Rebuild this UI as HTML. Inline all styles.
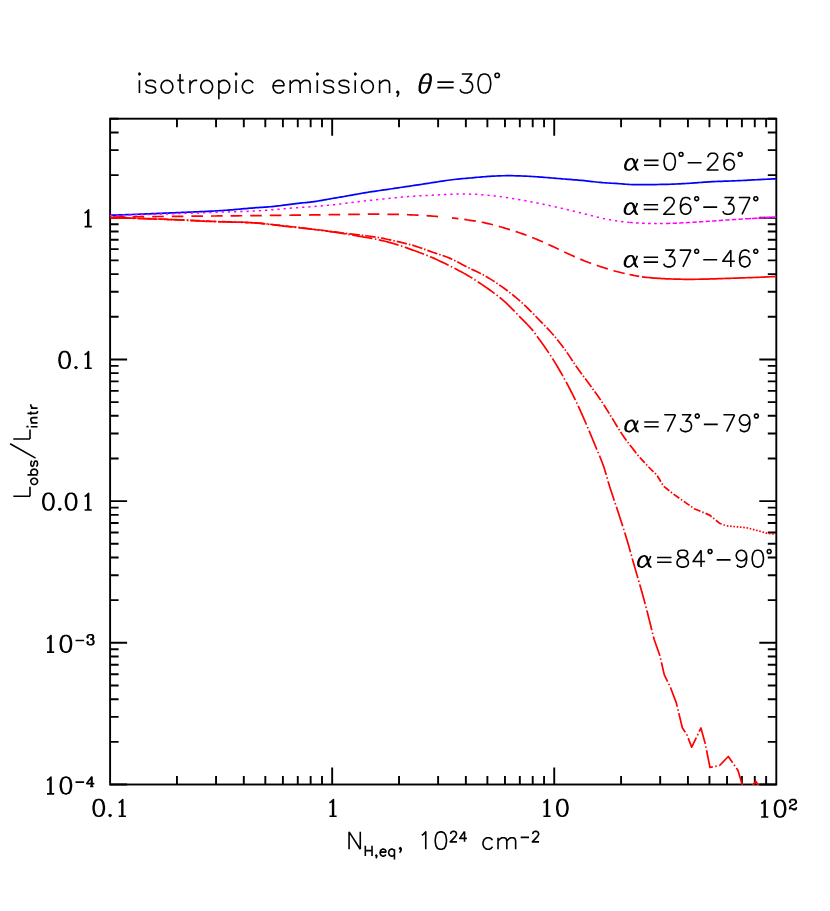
<!DOCTYPE html>
<html lang="en"><head><meta charset="utf-8"><title>isotropic emission, theta=30 deg</title>
<style>html,body{margin:0;padding:0;background:#fff}body{width:830px;height:911px;overflow:hidden;font-family:"Liberation Sans",sans-serif}svg{display:block}.t{fill:none;stroke:#000;stroke-linecap:butt;stroke-linejoin:round}.h{fill:#000;fill-opacity:0;stroke:none;font-family:"Liberation Sans",sans-serif}</style></head><body>
<svg width="830" height="911" viewBox="0 0 830 911">
<rect width="830" height="911" fill="#fff"/>
<defs><clipPath id="c"><rect x="110.1" y="118.7" width="666.2" height="666.4"/></clipPath></defs>
<path d="M176.95 784.5 v-8.5 M176.95 118.7 v8.5 M216.05 784.5 v-8.5 M216.05 118.7 v8.5 M243.8 784.5 v-8.5 M243.8 118.7 v8.5 M265.32 784.5 v-8.5 M265.32 118.7 v8.5 M282.9 784.5 v-8.5 M282.9 118.7 v8.5 M297.77 784.5 v-8.5 M297.77 118.7 v8.5 M310.65 784.5 v-8.5 M310.65 118.7 v8.5 M322.01 784.5 v-8.5 M322.01 118.7 v8.5 M332.17 784.5 v-17 M332.17 118.7 v17 M399.02 784.5 v-8.5 M399.02 118.7 v8.5 M438.12 784.5 v-8.5 M438.12 118.7 v8.5 M465.86 784.5 v-8.5 M465.86 118.7 v8.5 M487.38 784.5 v-8.5 M487.38 118.7 v8.5 M504.97 784.5 v-8.5 M504.97 118.7 v8.5 M519.83 784.5 v-8.5 M519.83 118.7 v8.5 M532.71 784.5 v-8.5 M532.71 118.7 v8.5 M544.07 784.5 v-8.5 M544.07 118.7 v8.5 M554.23 784.5 v-17 M554.23 118.7 v17 M621.08 784.5 v-8.5 M621.08 118.7 v8.5 M660.19 784.5 v-8.5 M660.19 118.7 v8.5 M687.93 784.5 v-8.5 M687.93 118.7 v8.5 M709.45 784.5 v-8.5 M709.45 118.7 v8.5 M727.03 784.5 v-8.5 M727.03 118.7 v8.5 M741.9 784.5 v-8.5 M741.9 118.7 v8.5 M754.78 784.5 v-8.5 M754.78 118.7 v8.5 M766.14 784.5 v-8.5 M766.14 118.7 v8.5 M110.1 784.5 h17 M776.3 784.5 h-17 M110.1 741.85 h8.5 M776.3 741.85 h-8.5 M110.1 716.9 h8.5 M776.3 716.9 h-8.5 M110.1 699.19 h8.5 M776.3 699.19 h-8.5 M110.1 685.46 h8.5 M776.3 685.46 h-8.5 M110.1 674.24 h8.5 M776.3 674.24 h-8.5 M110.1 664.76 h8.5 M776.3 664.76 h-8.5 M110.1 656.54 h8.5 M776.3 656.54 h-8.5 M110.1 649.29 h8.5 M776.3 649.29 h-8.5 M110.1 642.81 h17 M776.3 642.81 h-17 M110.1 600.16 h8.5 M776.3 600.16 h-8.5 M110.1 575.21 h8.5 M776.3 575.21 h-8.5 M110.1 557.5 h8.5 M776.3 557.5 h-8.5 M110.1 543.77 h8.5 M776.3 543.77 h-8.5 M110.1 532.55 h8.5 M776.3 532.55 h-8.5 M110.1 523.07 h8.5 M776.3 523.07 h-8.5 M110.1 514.85 h8.5 M776.3 514.85 h-8.5 M110.1 507.6 h8.5 M776.3 507.6 h-8.5 M110.1 501.12 h17 M776.3 501.12 h-17 M110.1 458.47 h8.5 M776.3 458.47 h-8.5 M110.1 433.52 h8.5 M776.3 433.52 h-8.5 M110.1 415.81 h8.5 M776.3 415.81 h-8.5 M110.1 402.08 h8.5 M776.3 402.08 h-8.5 M110.1 390.86 h8.5 M776.3 390.86 h-8.5 M110.1 381.38 h8.5 M776.3 381.38 h-8.5 M110.1 373.16 h8.5 M776.3 373.16 h-8.5 M110.1 365.91 h8.5 M776.3 365.91 h-8.5 M110.1 359.43 h17 M776.3 359.43 h-17 M110.1 316.77 h8.5 M776.3 316.77 h-8.5 M110.1 291.82 h8.5 M776.3 291.82 h-8.5 M110.1 274.12 h8.5 M776.3 274.12 h-8.5 M110.1 260.39 h8.5 M776.3 260.39 h-8.5 M110.1 249.17 h8.5 M776.3 249.17 h-8.5 M110.1 239.69 h8.5 M776.3 239.69 h-8.5 M110.1 231.47 h8.5 M776.3 231.47 h-8.5 M110.1 224.22 h8.5 M776.3 224.22 h-8.5 M110.1 217.74 h17 M776.3 217.74 h-17 M110.1 175.08 h8.5 M776.3 175.08 h-8.5 M110.1 150.13 h8.5 M776.3 150.13 h-8.5 M110.1 132.43 h8.5 M776.3 132.43 h-8.5 M110.1 118.7 h8.5 M776.3 118.7 h-8.5" fill="none" stroke="#000" stroke-width="1.9"/>
<rect x="110.1" y="118.7" width="666.2" height="665.8" fill="none" stroke="#000" stroke-width="1.9"/>
<g clip-path="url(#c)" fill="none" stroke-width="1.7" stroke-linejoin="round">
<path d="M110.1 215.2 L112.1 215.14 L114.1 215.09 L116.1 215.03 L118.1 214.97 L120.1 214.9 L122.1 214.84 L124.1 214.77 L126.1 214.7 L128.1 214.63 L130.1 214.56 L132.1 214.49 L134.1 214.42 L136.1 214.34 L138.1 214.27 L140.1 214.19 L142.1 214.12 L144.1 214.04 L146.1 213.96 L148.1 213.88 L150.1 213.8 L152.1 213.71 L154.1 213.63 L156.1 213.55 L158.1 213.46 L160.1 213.38 L162.1 213.3 L164.1 213.21 L166.1 213.13 L168.1 213.04 L170.1 212.95 L172.1 212.87 L174.1 212.78 L176.1 212.7 L178.1 212.61 L180.1 212.52 L182.1 212.44 L184.1 212.35 L186.1 212.27 L188.1 212.18 L190.1 212.1 L192.1 212.01 L194.1 211.93 L196.1 211.84 L198.1 211.76 L200.1 211.67 L202.1 211.58 L204.1 211.49 L206.1 211.4 L208.1 211.3 L210.1 211.2 L212.1 211.1 L214.1 210.99 L216.1 210.88 L218.1 210.77 L220.1 210.65 L222.1 210.52 L224.1 210.39 L226.1 210.25 L228.1 210.1 L230.1 209.95 L232.1 209.79 L234.1 209.62 L236.1 209.45 L238.1 209.27 L240.1 209.09 L242.1 208.91 L244.1 208.72 L246.1 208.54 L248.1 208.37 L250.1 208.19 L252.1 208.03 L254.1 207.87 L256.1 207.72 L258.1 207.58 L260.1 207.45 L262.1 207.31 L264.1 207.18 L266.1 207.04 L268.1 206.9 L270.1 206.74 L272.1 206.58 L274.1 206.39 L276.1 206.18 L278.1 205.96 L280.1 205.72 L282.1 205.46 L284.1 205.2 L286.1 204.93 L288.1 204.66 L290.1 204.39 L292.1 204.13 L294.1 203.87 L296.1 203.63 L298.1 203.4 L300.1 203.18 L302.1 202.96 L304.1 202.74 L306.1 202.53 L308.1 202.31 L310.1 202.08 L312.1 201.83 L314.1 201.57 L316.1 201.29 L318.1 200.98 L320.1 200.65 L322.1 200.31 L324.1 199.96 L326.1 199.6 L328.1 199.24 L330.1 198.88 L332.1 198.53 L334.1 198.18 L336.1 197.84 L338.1 197.5 L340.1 197.16 L342.1 196.82 L344.1 196.48 L346.1 196.13 L348.1 195.78 L350.1 195.42 L352.1 195.06 L354.1 194.7 L356.1 194.33 L358.1 193.97 L360.1 193.61 L362.1 193.26 L364.1 192.92 L366.1 192.58 L368.1 192.26 L370.1 191.95 L372.1 191.65 L374.1 191.35 L376.1 191.06 L378.1 190.77 L380.1 190.49 L382.1 190.2 L384.1 189.91 L386.1 189.62 L388.1 189.33 L390.1 189.03 L392.1 188.73 L394.1 188.43 L396.1 188.13 L398.1 187.83 L400.1 187.53 L402.1 187.23 L404.1 186.93 L406.1 186.63 L408.1 186.34 L410.1 186.04 L412.1 185.75 L414.1 185.45 L416.1 185.15 L418.1 184.85 L420.1 184.55 L422.1 184.24 L424.1 183.93 L426.1 183.62 L428.1 183.31 L430.1 183 L432.1 182.68 L434.1 182.37 L436.1 182.06 L438.1 181.75 L440.1 181.44 L442.1 181.13 L444.1 180.83 L446.1 180.53 L448.1 180.25 L450.1 179.98 L452.1 179.72 L454.1 179.47 L456.1 179.24 L458.1 179.03 L460.1 178.84 L462.1 178.66 L464.1 178.49 L466.1 178.33 L468.1 178.16 L470.1 177.99 L472.1 177.82 L474.1 177.64 L476.1 177.45 L478.1 177.27 L480.1 177.09 L482.1 176.92 L484.1 176.75 L486.1 176.59 L488.1 176.45 L490.1 176.31 L492.1 176.19 L494.1 176.08 L496.1 175.98 L498.1 175.9 L500.1 175.83 L502.1 175.77 L504.1 175.73 L506.1 175.7 L508.1 175.69 L510.1 175.69 L512.1 175.71 L514.1 175.74 L516.1 175.78 L518.1 175.84 L520.1 175.9 L522.1 175.98 L524.1 176.06 L526.1 176.16 L528.1 176.26 L530.1 176.38 L532.1 176.49 L534.1 176.62 L536.1 176.75 L538.1 176.89 L540.1 177.04 L542.1 177.19 L544.1 177.34 L546.1 177.5 L548.1 177.66 L550.1 177.82 L552.1 177.99 L554.1 178.15 L556.1 178.32 L558.1 178.49 L560.1 178.66 L562.1 178.83 L564.1 178.99 L566.1 179.16 L568.1 179.32 L570.1 179.47 L572.1 179.63 L574.1 179.79 L576.1 179.95 L578.1 180.11 L580.1 180.28 L582.1 180.46 L584.1 180.65 L586.1 180.85 L588.1 181.07 L590.1 181.3 L592.1 181.54 L594.1 181.78 L596.1 182.02 L598.1 182.24 L600.1 182.44 L602.1 182.62 L604.1 182.77 L606.1 182.89 L608.1 183.01 L610.1 183.12 L612.1 183.23 L614.1 183.34 L616.1 183.47 L618.1 183.62 L620.1 183.77 L622.1 183.93 L624.1 184.09 L626.1 184.23 L628.1 184.37 L630.1 184.48 L632.1 184.57 L634.1 184.63 L636.1 184.68 L638.1 184.7 L640.1 184.71 L642.1 184.71 L644.1 184.69 L646.1 184.67 L648.1 184.64 L650.1 184.61 L652.1 184.58 L654.1 184.56 L656.1 184.53 L658.1 184.5 L660.1 184.47 L662.1 184.43 L664.1 184.39 L666.1 184.35 L668.1 184.3 L670.1 184.24 L672.1 184.18 L674.1 184.1 L676.1 184.02 L678.1 183.93 L680.1 183.83 L682.1 183.72 L684.1 183.61 L686.1 183.49 L688.1 183.36 L690.1 183.23 L692.1 183.09 L694.1 182.95 L696.1 182.81 L698.1 182.66 L700.1 182.51 L702.1 182.37 L704.1 182.22 L706.1 182.09 L708.1 181.95 L710.1 181.83 L712.1 181.72 L714.1 181.61 L716.1 181.52 L718.1 181.43 L720.1 181.36 L722.1 181.28 L724.1 181.21 L726.1 181.14 L728.1 181.07 L730.1 181 L732.1 180.93 L734.1 180.85 L736.1 180.77 L738.1 180.68 L740.1 180.59 L742.1 180.49 L744.1 180.39 L746.1 180.29 L748.1 180.18 L750.1 180.08 L752.1 179.97 L754.1 179.86 L756.1 179.75 L758.1 179.65 L760.1 179.54 L762.1 179.44 L764.1 179.34 L766.1 179.24 L768.1 179.14 L770.1 179.05 L772.1 178.97 L774.1 178.88 L776.1 178.81 L776.3 178.8" stroke="#0000ff"/>
<path d="M110.1 215.5 L112.1 215.44 L114.1 215.39 L116.1 215.33 L118.1 215.27 L120.1 215.22 L122.1 215.16 L124.1 215.11 L126.1 215.05 L128.1 215 L130.1 214.94 L132.1 214.89 L134.1 214.83 L136.1 214.78 L138.1 214.73 L140.1 214.67 L142.1 214.62 L144.1 214.56 L146.1 214.51 L148.1 214.45 L150.1 214.4 L152.1 214.34 L154.1 214.29 L156.1 214.23 L158.1 214.17 L160.1 214.12 L162.1 214.06 L164.1 214 L166.1 213.94 L168.1 213.89 L170.1 213.83 L172.1 213.77 L174.1 213.71 L176.1 213.65 L178.1 213.58 L180.1 213.52 L182.1 213.46 L184.1 213.39 L186.1 213.33 L188.1 213.26 L190.1 213.2 L192.1 213.13 L194.1 213.06 L196.1 212.99 L198.1 212.92 L200.1 212.85 L202.1 212.78 L204.1 212.71 L206.1 212.64 L208.1 212.57 L210.1 212.5 L212.1 212.43 L214.1 212.37 L216.1 212.3 L218.1 212.23 L220.1 212.16 L222.1 212.1 L224.1 212.04 L226.1 211.97 L228.1 211.91 L230.1 211.85 L232.1 211.8 L234.1 211.74 L236.1 211.69 L238.1 211.63 L240.1 211.58 L242.1 211.52 L244.1 211.45 L246.1 211.39 L248.1 211.31 L250.1 211.23 L252.1 211.14 L254.1 211.05 L256.1 210.94 L258.1 210.82 L260.1 210.69 L262.1 210.56 L264.1 210.41 L266.1 210.26 L268.1 210.11 L270.1 209.95 L272.1 209.78 L274.1 209.61 L276.1 209.44 L278.1 209.27 L280.1 209.1 L282.1 208.93 L284.1 208.76 L286.1 208.59 L288.1 208.43 L290.1 208.27 L292.1 208.11 L294.1 207.95 L296.1 207.8 L298.1 207.64 L300.1 207.49 L302.1 207.34 L304.1 207.19 L306.1 207.04 L308.1 206.89 L310.1 206.74 L312.1 206.58 L314.1 206.43 L316.1 206.27 L318.1 206.12 L320.1 205.96 L322.1 205.79 L324.1 205.63 L326.1 205.45 L328.1 205.28 L330.1 205.09 L332.1 204.9 L334.1 204.7 L336.1 204.48 L338.1 204.26 L340.1 204.02 L342.1 203.77 L344.1 203.51 L346.1 203.25 L348.1 202.99 L350.1 202.73 L352.1 202.47 L354.1 202.22 L356.1 201.97 L358.1 201.72 L360.1 201.48 L362.1 201.25 L364.1 201.01 L366.1 200.79 L368.1 200.57 L370.1 200.35 L372.1 200.14 L374.1 199.93 L376.1 199.73 L378.1 199.52 L380.1 199.32 L382.1 199.12 L384.1 198.91 L386.1 198.7 L388.1 198.5 L390.1 198.29 L392.1 198.08 L394.1 197.88 L396.1 197.68 L398.1 197.49 L400.1 197.3 L402.1 197.12 L404.1 196.94 L406.1 196.78 L408.1 196.62 L410.1 196.47 L412.1 196.32 L414.1 196.19 L416.1 196.06 L418.1 195.93 L420.1 195.82 L422.1 195.71 L424.1 195.6 L426.1 195.5 L428.1 195.4 L430.1 195.3 L432.1 195.21 L434.1 195.11 L436.1 195.01 L438.1 194.92 L440.1 194.81 L442.1 194.71 L444.1 194.61 L446.1 194.5 L448.1 194.41 L450.1 194.32 L452.1 194.24 L454.1 194.17 L456.1 194.11 L458.1 194.07 L460.1 194.04 L462.1 194.03 L464.1 194.03 L466.1 194.05 L468.1 194.09 L470.1 194.13 L472.1 194.2 L474.1 194.28 L476.1 194.37 L478.1 194.48 L480.1 194.61 L482.1 194.75 L484.1 194.9 L486.1 195.07 L488.1 195.25 L490.1 195.45 L492.1 195.65 L494.1 195.88 L496.1 196.11 L498.1 196.36 L500.1 196.61 L502.1 196.88 L504.1 197.16 L506.1 197.46 L508.1 197.76 L510.1 198.07 L512.1 198.39 L514.1 198.72 L516.1 199.06 L518.1 199.4 L520.1 199.76 L522.1 200.12 L524.1 200.48 L526.1 200.85 L528.1 201.23 L530.1 201.6 L532.1 201.99 L534.1 202.38 L536.1 202.77 L538.1 203.17 L540.1 203.57 L542.1 203.98 L544.1 204.4 L546.1 204.82 L548.1 205.25 L550.1 205.69 L552.1 206.13 L554.1 206.57 L556.1 207.03 L558.1 207.48 L560.1 207.95 L562.1 208.41 L564.1 208.89 L566.1 209.37 L568.1 209.85 L570.1 210.34 L572.1 210.83 L574.1 211.32 L576.1 211.82 L578.1 212.31 L580.1 212.82 L582.1 213.32 L584.1 213.82 L586.1 214.32 L588.1 214.82 L590.1 215.33 L592.1 215.83 L594.1 216.32 L596.1 216.81 L598.1 217.29 L600.1 217.75 L602.1 218.21 L604.1 218.65 L606.1 219.07 L608.1 219.48 L610.1 219.86 L612.1 220.22 L614.1 220.55 L616.1 220.86 L618.1 221.15 L620.1 221.42 L622.1 221.66 L624.1 221.89 L626.1 222.1 L628.1 222.29 L630 222.46" stroke="#ff00ff" stroke-width="1.5" stroke-dasharray="2.3 3.9"/>
<path d="M630 222.46 L632 222.62 L634 222.77 L636 222.9 L638 223.02 L640 223.13 L642 223.23 L644 223.31 L646 223.38 L648 223.44 L650 223.48 L652 223.52 L654 223.54 L656 223.55 L658 223.55 L660 223.54 L662 223.52 L664 223.49 L666 223.45" stroke="#ff00ff" stroke-width="1.5" stroke-dasharray="2.8 3.2"/>
<path d="M666 223.45 L668 223.4 L670 223.34 L672 223.28 L674 223.21 L676 223.13 L678 223.04 L680 222.95 L682 222.85 L684 222.75 L686 222.64 L688 222.53 L690 222.42 L692 222.3 L694 222.18 L696 222.06 L698 221.94 L700 221.81 L702 221.69 L704 221.56 L706 221.43 L708 221.3 L710 221.16 L712 221.03 L714 220.89 L716 220.75 L718 220.61 L720 220.47 L722 220.34 L724 220.2 L726 220.06 L728 219.92 L730 219.79 L732 219.66 L734 219.53 L736 219.4 L738 219.28 L740 219.16 L742 219.04 L744 218.93 L745 218.87" stroke="#ff00ff" stroke-width="1.5" stroke-dasharray="4.4 2.2"/>
<path d="M745 218.87 L747 218.76 L749 218.64 L751 218.53 L753 218.42 L755 218.31 L757 218.2 L759 218.09 L761 217.98 L763 217.87 L765 217.76 L767 217.65 L769 217.53 L771 217.42 L773 217.3 L775 217.18 L776.3 217.1" stroke="#ff00ff" stroke-width="1.5" stroke-dasharray="6 0.6"/>
<path d="M110.1 217.1 L112.1 217.07 L114.1 217.04 L116.1 217.02 L118.1 216.99 L120.1 216.96 L122.1 216.93 L124.1 216.91 L126.1 216.88 L128.1 216.86 L130.1 216.83 L132.1 216.81 L134.1 216.78 L136.1 216.76 L138.1 216.74 L140.1 216.71 L142.1 216.69 L144.1 216.67 L146.1 216.65 L148.1 216.62 L150.1 216.6 L152.1 216.58 L154.1 216.56 L156.1 216.54 L158.1 216.52 L160.1 216.5 L162.1 216.48 L164.1 216.46 L166.1 216.44 L168.1 216.42 L170.1 216.4 L172.1 216.38 L174.1 216.36 L176.1 216.34 L178.1 216.32 L180.1 216.3 L182.1 216.29 L184.1 216.27 L186.1 216.25 L188.1 216.23 L190.1 216.21 L192.1 216.19 L194.1 216.18 L196.1 216.16 L198.1 216.14 L200.1 216.12 L202.1 216.11 L204.1 216.09 L206.1 216.07 L208.1 216.05 L210.1 216.03 L212.1 216.02 L214.1 216 L216.1 215.98 L218.1 215.96 L220.1 215.94 L222.1 215.93 L224.1 215.91 L226.1 215.89 L228.1 215.87 L230.1 215.85 L232.1 215.83 L234.1 215.82 L236.1 215.8 L238.1 215.78 L240.1 215.76 L242.1 215.74 L244.1 215.72 L246.1 215.7 L248.1 215.68 L250.1 215.66 L252.1 215.64 L254.1 215.62 L256.1 215.6 L258.1 215.58 L260.1 215.56 L262.1 215.54 L264.1 215.52 L266.1 215.5 L268.1 215.48 L270.1 215.45 L272.1 215.43 L274.1 215.41 L276.1 215.39 L278.1 215.37 L280.1 215.34 L282.1 215.32 L284.1 215.3 L286.1 215.27 L288.1 215.25 L290.1 215.23 L292.1 215.2 L294.1 215.18 L296.1 215.15 L298.1 215.13 L300.1 215.1 L302.1 215.08 L304.1 215.05 L306.1 215.02 L308.1 215 L310.1 214.97 L312.1 214.95 L314.1 214.92 L316.1 214.89 L318.1 214.86 L320.1 214.84 L322.1 214.81 L324.1 214.78 L326.1 214.75 L328.1 214.72 L330.1 214.69 L332.1 214.66 L334.1 214.63 L336.1 214.6 L338.1 214.57 L340.1 214.54 L342.1 214.51 L344.1 214.48 L346.1 214.45 L348.1 214.43 L350.1 214.4 L352.1 214.37 L354.1 214.34 L356.1 214.32 L358.1 214.3 L360.1 214.28 L362.1 214.26 L364.1 214.24 L366.1 214.23 L368.1 214.22 L370.1 214.21 L372.1 214.2 L374.1 214.2 L376.1 214.2 L378.1 214.2 L380.1 214.21 L382.1 214.22 L384.1 214.24 L386.1 214.26 L388.1 214.28 L390.1 214.31 L392.1 214.34 L394.1 214.37 L396.1 214.41 L398.1 214.45 L400.1 214.5 L402.1 214.55 L404.1 214.61 L406.1 214.67 L408.1 214.74 L410.1 214.82 L412.1 214.9 L414.1 214.99 L416.1 215.08 L418.1 215.18 L420.1 215.29 L422.1 215.41 L424.1 215.54 L426.1 215.67 L428.1 215.81 L430.1 215.95 L432.1 216.1 L434.1 216.25 L436.1 216.41 L438.1 216.57 L440.1 216.73 L442.1 216.9 L444.1 217.07 L446 217.24" stroke="#ff0000" stroke-dasharray="11.6 8" stroke-dashoffset="16.7"/>
<path d="M607.8 268.92 L606 268.37 L604 267.74 L602 267.11 L600 266.47 L598 265.81 L596 265.13 L594 264.44 L592 263.73 L590 263 L588 262.25 L586 261.47 L584 260.67 L582 259.85 L580 259.01 L578 258.15 L576 257.27 L574 256.38 L572 255.48 L570 254.57 L568 253.65 L566 252.72 L564 251.78 L562 250.84 L560 249.89 L558 248.95 L556 248 L554 247.06 L552 246.13 L550 245.2 L548 244.27 L546 243.36 L544 242.46 L542 241.58 L540 240.7 L538 239.85 L536 239 L534 238.18 L532 237.37 L530 236.58 L528 235.81 L526 235.07 L524 234.34 L522 233.63 L520 232.94 L518 232.27 L516 231.61 L514 230.96 L512 230.33 L510 229.7 L508 229.09 L506 228.48 L504 227.88 L502 227.28 L500 226.7 L498 226.13 L496 225.57 L494 225.03 L492 224.51 L490 224.02 L488 223.55 L486 223.1 L484 222.68 L482 222.29 L480 221.92 L478 221.57 L476 221.24 L474 220.92 L472 220.61 L470 220.3 L468 220 L466 219.7 L464 219.4 L462 219.12 L460 218.84 L458 218.57 L456 218.32 L454 218.08 L452 217.85" stroke="#ff0000" stroke-dasharray="11.6 6"/>
<path d="M613.6 270.68 L615.6 271.26 L617.6 271.79 L619.6 272.3 L621.6 272.77 L623.6 273.23 L624.7 273.47 M629.5 274.49 L631.5 274.91 L633.5 275.32 L635.5 275.72 L637.5 276.09 L639.2 276.38 M642 276.81 L644 277.07 L646 277.31 L648 277.52 L650 277.71 L652 277.89 L654 278.05 L656 278.2 L658 278.34 L660 278.47 L662 278.58 L664 278.69 L666 278.79 L668 278.87 L670 278.95 L672 279.02 L674 279.08 L676 279.14 L678 279.18 L680 279.22 L682 279.25 L684 279.28 L686 279.3 L688 279.3 L690 279.31 L692 279.3 L694 279.29 L696 279.27 L698 279.24 L700 279.21 L702 279.17 L704 279.13 L706 279.08 L708 279.03 L710 278.97 L712 278.91 L714 278.85 L716 278.79 L718 278.72 L720 278.65 L722 278.58 L724 278.51 L726 278.44 L728 278.37 L730 278.3 L732 278.23 L734 278.16 L736 278.1 L738 278.03 L740 277.96 L742 277.9 L744 277.83 L746 277.76 L748 277.69 L750 277.62 L752 277.55 L754 277.48 L756 277.4 L758 277.32 L760 277.24 L762 277.15 L764 277.06 L766 276.97 L768 276.87 L770 276.77 L772 276.66 L774 276.54 L776 276.42 L776.3 276.4" stroke="#ff0000"/>
<path d="M110.1 217.5 L112.1 217.55 L114.1 217.6 L116.1 217.65 L118.1 217.7 L120.1 217.75 L122.1 217.81 L124.1 217.86 L126.1 217.92 L128.1 217.98 L130.1 218.04 L132.1 218.1 L134.1 218.16 L136.1 218.22 L138.1 218.28 L140.1 218.35 L142.1 218.41 L144.1 218.48 L146.1 218.55 L148.1 218.62 L150.1 218.68 L152.1 218.75 L154.1 218.83 L156.1 218.9 L158.1 218.97 L160.1 219.04 L162.1 219.12 L164.1 219.19 L166.1 219.27 L168.1 219.34 L170.1 219.42 L172.1 219.5 L174.1 219.57 L176.1 219.65 L178.1 219.73 L180.1 219.82 L182.1 219.9 L184.1 220 L186.1 220.09 L188.1 220.19 L190.1 220.29 L192.1 220.39 L194.1 220.5 L196.1 220.6 L198.1 220.7 L200.1 220.8 L202.1 220.9 L204.1 221 L206.1 221.1 L208.1 221.19 L210.1 221.27 L212.1 221.35 L214.1 221.43 L216.1 221.49 L218.1 221.56 L220.1 221.61 L222.1 221.67 L224.1 221.72 L226.1 221.77 L228.1 221.82 L230.1 221.87 L232.1 221.92 L234.1 221.97 L236.1 222.02 L238.1 222.07 L240.1 222.13 L242.1 222.19 L244.1 222.26 L246.1 222.33 L248.1 222.42 L250.1 222.5 L252.1 222.61 L254.1 222.73 L256.1 222.88 L258.1 223.04 L260.1 223.21 L262.1 223.4 L264.1 223.61 L266.1 223.82 L268.1 224.04 L270.1 224.26 L272.1 224.49 L274.1 224.73 L276.1 224.97 L278.1 225.2 L280.1 225.44 L282.1 225.67 L284.1 225.89 L286.1 226.11 L288.1 226.33 L290.1 226.54 L292.1 226.76 L294.1 226.98 L296.1 227.21 L298.1 227.43 L300.1 227.66 L302.1 227.88 L304.1 228.11 L306.1 228.35 L308.1 228.58 L310.1 228.82 L312.1 229.05 L314.1 229.29 L316.1 229.54 L318.1 229.78 L320.1 230.03 L322.1 230.28 L324.1 230.53 L326.1 230.79 L328.1 231.06 L330.1 231.34 L332.1 231.62 L334.1 231.89 L336.1 232.17 L338.1 232.44 L340.1 232.71 L342.1 232.97 L344.1 233.21 L346.1 233.45 L348.1 233.67 L350.1 233.88 L352.1 234.1 L354.1 234.31 L356.1 234.53 L358.1 234.76 L360.1 235 L362.1 235.25 L364.1 235.49 L366.1 235.74 L368.1 235.99 L370.1 236.26 L372.1 236.54 L374.1 236.83 L376.1 237.14 L378.1 237.47 L380.1 237.83 L382.1 238.21 L384.1 238.61 L386.1 239.03 L388.1 239.46 L390.1 239.91 L392.1 240.35 L394.1 240.8 L396.1 241.24 L398.1 241.69 L400.1 242.14 L402.1 242.6 L404.1 243.07 L406.1 243.55 L408.1 244.05 L410.1 244.57 L412.1 245.12 L414.1 245.69 L416.1 246.32 L418.1 246.99 L420.1 247.69 L422.1 248.41 L424.1 249.15 L426.1 249.89 L428.1 250.63 L430.1 251.35 L432.1 252.05 L434.1 252.72 L436.1 253.38 L438.1 254.03 L440.1 254.69 L442.1 255.36 L444.1 256.06 L446.1 256.79 L448.1 257.56 L450.1 258.38 L452.1 259.27 L454.1 260.23 L456.1 261.23 L458.1 262.27 L460.1 263.33 L462.1 264.4 L464.1 265.45 L466.1 266.49 L468.1 267.5 L470.1 268.47 L472.1 269.43 L474.1 270.38 L476.1 271.34 L478.1 272.3 L480.1 273.29 L482.1 274.31 L484.1 275.38 L486.1 276.5 L488.1 277.66 L490.1 278.87 L492.1 280.12 L494.1 281.41 L496.1 282.73 L498.1 284.08 L500.1 285.46 L502.1 286.87 L504.1 288.3 L506.1 289.77 L508.1 291.27 L510.1 292.81 L512.1 294.38 L514.1 295.99 L516.1 297.64 L518.1 299.33 L520.1 301.06 L522.1 302.84 L524.1 304.68 L526.1 306.59 L528.1 308.56 L530.1 310.58 L532.1 312.63 L534.1 314.7 L536.1 316.78 L538.1 318.85 L540.1 320.91 L542.1 322.95 L544.1 324.99 L546.1 327.04 L548.1 329.13 L550.1 331.28 L552.1 333.5 L554.1 335.81 L556.1 338.2 L558.1 340.67 L560.1 343.2 L562.1 345.81 L564.1 348.48 L566.1 351.23 L568.1 354.13 L570.1 357.15 L572.1 360.21 L574.1 363.26 L576.1 366.23 L578.1 369.08 L580.1 371.82 L582.1 374.5 L584.1 377.14 L586.1 379.78 L588.1 382.45 L590.1 385.19 L592.1 387.94 L594.1 390.71 L596.1 393.5 L598.1 396.34 L600.1 399.23 L602.1 402.2 L604.1 405.28 L606.1 408.44 L608.1 411.67 L610.1 414.91 L612.1 418.14 L614.1 421.39 L616.1 424.69 L618.1 427.98 L620.1 431.19 L622.1 434.26 L624.1 437.15 L626.1 439.93 L628.1 442.63 L630.1 445.25 L632.1 447.83 L634.1 450.39 L636.1 452.92 L638.1 455.41 L640 457.7" stroke="#ff0000" stroke-dasharray="10.5 2 1.5 2"/>
<path d="M640 457.7 L648.6 467 L656.8 475 L663.5 486.1 L672.5 493.4 L694.2 508.7 L709.6 515.1 L719.5 523.2 L726.8 525.9" stroke="#ff0000" stroke-dasharray="7 2 1.5 2"/>
<path d="M726.8 525.9 L746.6 527.7 L766.5 533.1 L776.5 534.4" stroke="#ff0000" stroke-dasharray="1.6 1.7"/>
<path d="M110.1 217.7 L112.1 217.75 L114.1 217.8 L116.1 217.85 L118.1 217.9 L120.1 217.95 L122.1 218.01 L124.1 218.06 L126.1 218.12 L128.1 218.18 L130.1 218.24 L132.1 218.3 L134.1 218.36 L136.1 218.42 L138.1 218.48 L140.1 218.55 L142.1 218.61 L144.1 218.68 L146.1 218.75 L148.1 218.82 L150.1 218.88 L152.1 218.95 L154.1 219.03 L156.1 219.1 L158.1 219.17 L160.1 219.24 L162.1 219.32 L164.1 219.39 L166.1 219.47 L168.1 219.54 L170.1 219.62 L172.1 219.7 L174.1 219.77 L176.1 219.85 L178.1 219.93 L180.1 220.02 L182.1 220.1 L184.1 220.2 L186.1 220.29 L188.1 220.39 L190.1 220.49 L192.1 220.59 L194.1 220.7 L196.1 220.8 L198.1 220.9 L200.1 221 L202.1 221.1 L204.1 221.2 L206.1 221.3 L208.1 221.39 L210.1 221.47 L212.1 221.55 L214.1 221.63 L216.1 221.69 L218.1 221.76 L220.1 221.81 L222.1 221.87 L224.1 221.92 L226.1 221.97 L228.1 222.02 L230.1 222.07 L232.1 222.12 L234.1 222.17 L236.1 222.22 L238.1 222.27 L240.1 222.33 L242.1 222.39 L244.1 222.46 L246.1 222.53 L248.1 222.62 L250.1 222.7 L252.1 222.81 L254.1 222.93 L256.1 223.08 L258.1 223.24 L260.1 223.41 L262.1 223.6 L264.1 223.81 L266.1 224.02 L268.1 224.24 L270.1 224.46 L272.1 224.69 L274.1 224.93 L276.1 225.17 L278.1 225.4 L280.1 225.64 L282.1 225.87 L284.1 226.09 L286.1 226.31 L288.1 226.53 L290.1 226.74 L292.1 226.96 L294.1 227.18 L296.1 227.4 L298.1 227.62 L300.1 227.84 L302.1 228.07 L304.1 228.3 L306.1 228.53 L308.1 228.76 L310.1 228.99 L312.1 229.23 L314.1 229.47 L316.1 229.72 L318.1 229.97 L320.1 230.22 L322.1 230.47 L324.1 230.73 L326.1 231 L328.1 231.27 L330.1 231.54 L332.1 231.82 L334.1 232.11 L336.1 232.4 L338.1 232.69 L340.1 233 L342.1 233.3 L344.1 233.62 L346.1 233.94 L348.1 234.28 L350.1 234.62 L352.1 234.98 L354.1 235.34 L356.1 235.69 L358.1 236.05 L360.1 236.39 L362.1 236.73 L364.1 237.06 L366.1 237.4 L368.1 237.74 L370.1 238.08 L372.1 238.44 L374.1 238.82 L376.1 239.22 L378.1 239.64 L380.1 240.09 L382.1 240.55 L384.1 241.04 L386.1 241.55 L388.1 242.07 L390.1 242.61 L392.1 243.17 L394.1 243.74 L396.1 244.33 L398.1 244.95 L400.1 245.59 L402.1 246.27 L404.1 246.96 L406.1 247.67 L408.1 248.39 L410.1 249.11 L412.1 249.84 L414.1 250.56 L416.1 251.29 L418.1 252.02 L420.1 252.76 L422.1 253.51 L424.1 254.28 L426.1 255.06 L428.1 255.86 L430.1 256.68 L432.1 257.53 L434.1 258.4 L436.1 259.3 L438.1 260.21 L440.1 261.15 L442.1 262.11 L444.1 263.08 L446.1 264.06 L448.1 265.05 L450.1 266.05 L452.1 267.05 L454.1 268.06 L456.1 269.09 L458.1 270.13 L460.1 271.19 L462.1 272.27 L464.1 273.37 L466.1 274.51 L468.1 275.67 L470.1 276.86 L472.1 278.09 L474.1 279.35 L476.1 280.63 L478.1 281.94 L480.1 283.27 L482.1 284.62 L484.1 286 L486.1 287.39 L488.1 288.79 L490.1 290.21 L492.1 291.64 L494.1 293.11 L496.1 294.61 L498.1 296.15 L500.1 297.75 L502.1 299.4 L504.1 301.11 L506.1 302.92 L508.1 304.82 L510.1 306.79 L512.1 308.82 L514.1 310.89 L516.1 312.98 L518.1 315.07 L520.1 317.16 L522.1 319.21 L524.1 321.21 L526.1 323.2 L528.1 325.23 L530.1 327.36 L532.1 329.64 L534.1 332.2 L536.1 334.98 L538.1 337.74 L540.1 340.5 L542.1 343.28 L544.1 346.09 L546.1 348.95 L548.1 351.87 L550.1 354.88 L552.1 357.98 L554.1 361.16 L556.1 364.43 L558.1 367.78 L560.1 371.2 L562.1 374.7 L564.1 378.28 L566.1 381.93 L568.1 385.68 L570.1 389.51 L572.1 393.44 L574.1 397.45 L576.1 401.56 L578.1 405.81 L580.1 410.18 L582.1 414.66 L584.1 419.2 L586.1 423.78 L588.1 428.44 L590.1 433.19 L592.1 438 L594.1 442.85 L596.1 447.73 L598.1 452.48 L600.1 457.23 L602.1 462.25 L604.1 467.8 L606.1 474.48 L608.1 481.6 L610.1 488.03 L612.1 494.1 L614.1 500.02 L616.1 505.96 L618.1 512.05 L620.1 518.15 L622.1 524.29 L624.1 530.56 L626.1 537.03 L628.1 543.8 L630.1 550.8 L632.1 557.91 L634.1 565 L636.1 571.96 L638.1 578.85 L640.1 585.76 L642.1 592.8 L644.1 600.07 L646.1 607.59 L648.1 615.3 L649.3 620" stroke="#ff0000" stroke-dasharray="20.5 2.5 1.5 2.5"/>
<path d="M649.3 620 L654.1 639.3 L659.9 655.7 L664.3 674.9 L670.5 687.5 L676.3 702.9 L682.4 728 L686.9 734.7 L691.7 747.2 L700.9 728 L705.2 743.4 L710 767.5 L719.6 765.5 L728.3 756.5 L738 770.4 L742.6 786" stroke="#ff0000" stroke-dasharray="20.5 2.5 1.5 2.5" stroke-dashoffset="10"/>
<path d="M752.3 786 L755.7 781.3 L759 786" stroke="#ff0000"/>
</g>
<path class="t" stroke-width="1.6" d="M138.51 74.04 L139.41 74.94 L140.31 74.04 L139.41 73.13 L138.51 74.04 M139.41 80.36 L139.41 93 M155.67 83.07 L154.76 81.26 L152.05 80.36 L149.34 80.36 L146.64 81.26 L145.73 83.07 L146.64 84.87 L148.44 85.78 L152.96 86.68 L154.76 87.58 L155.67 89.39 L155.67 90.29 L154.76 92.1 L152.05 93 L149.34 93 L146.64 92.1 L145.73 90.29 M165.6 80.36 L163.79 81.26 L161.99 83.07 L161.08 85.78 L161.08 87.58 L161.99 90.29 L163.79 92.1 L165.6 93 L168.31 93 L170.11 92.1 L171.92 90.29 L172.82 87.58 L172.82 85.78 L171.92 83.07 L170.11 81.26 L168.31 80.36 L165.6 80.36 M180.05 74.04 L180.05 89.39 L180.95 92.1 L182.76 93 L184.56 93 M177.34 80.36 L183.66 80.36 M189.98 80.36 L189.98 93 M189.98 85.78 L190.88 83.07 L192.69 81.26 L194.5 80.36 L197.2 80.36 M205.33 80.36 L203.53 81.26 L201.72 83.07 L200.82 85.78 L200.82 87.58 L201.72 90.29 L203.53 92.1 L205.33 93 L208.04 93 L209.85 92.1 L211.65 90.29 L212.56 87.58 L212.56 85.78 L211.65 83.07 L209.85 81.26 L208.04 80.36 L205.33 80.36 M218.88 80.36 L218.88 99.32 M218.88 83.07 L220.68 81.26 L222.49 80.36 L225.2 80.36 L227 81.26 L228.81 83.07 L229.71 85.78 L229.71 87.58 L228.81 90.29 L227 92.1 L225.2 93 L222.49 93 L220.68 92.1 L218.88 90.29 M235.13 74.04 L236.03 74.94 L236.94 74.04 L236.03 73.13 L235.13 74.04 M236.03 80.36 L236.03 93 M253.19 83.07 L251.38 81.26 L249.58 80.36 L246.87 80.36 L245.06 81.26 L243.26 83.07 L242.35 85.78 L242.35 87.58 L243.26 90.29 L245.06 92.1 L246.87 93 L249.58 93 L251.38 92.1 L253.19 90.29 M273.06 85.78 L283.89 85.78 L283.89 83.97 L282.99 82.16 L282.09 81.26 L280.28 80.36 L277.57 80.36 L275.77 81.26 L273.96 83.07 L273.06 85.78 L273.06 87.58 L273.96 90.29 L275.77 92.1 L277.57 93 L280.28 93 L282.09 92.1 L283.89 90.29 M290.21 80.36 L290.21 93 M290.21 83.97 L292.92 81.26 L294.73 80.36 L297.44 80.36 L299.24 81.26 L300.15 83.97 L300.15 93 M300.15 83.97 L302.86 81.26 L304.66 80.36 L307.37 80.36 L309.18 81.26 L310.08 83.97 L310.08 93 M316.4 74.04 L317.3 74.94 L318.21 74.04 L317.3 73.13 L316.4 74.04 M317.3 80.36 L317.3 93 M333.56 83.07 L332.65 81.26 L329.94 80.36 L327.24 80.36 L324.53 81.26 L323.62 83.07 L324.53 84.87 L326.33 85.78 L330.85 86.68 L332.65 87.58 L333.56 89.39 L333.56 90.29 L332.65 92.1 L329.94 93 L327.24 93 L324.53 92.1 L323.62 90.29 M348.91 83.07 L348 81.26 L345.3 80.36 L342.59 80.36 L339.88 81.26 L338.98 83.07 L339.88 84.87 L341.68 85.78 L346.2 86.68 L348 87.58 L348.91 89.39 L348.91 90.29 L348 92.1 L345.3 93 L342.59 93 L339.88 92.1 L338.98 90.29 M354.33 74.04 L355.23 74.94 L356.13 74.04 L355.23 73.13 L354.33 74.04 M355.23 80.36 L355.23 93 M366.06 80.36 L364.26 81.26 L362.45 83.07 L361.55 85.78 L361.55 87.58 L362.45 90.29 L364.26 92.1 L366.06 93 L368.77 93 L370.58 92.1 L372.39 90.29 L373.29 87.58 L373.29 85.78 L372.39 83.07 L370.58 81.26 L368.77 80.36 L366.06 80.36 M379.61 80.36 L379.61 93 M379.61 83.97 L382.32 81.26 L384.12 80.36 L386.83 80.36 L388.64 81.26 L389.54 83.97 L389.54 93 M398.57 92.1 L397.67 93 L396.77 92.1 L397.67 91.19 L398.57 92.1 L398.57 93.9 L397.67 95.71 L396.77 96.61 M426.57 74.04 L423.86 74.94 L422.05 77.65 L421.15 79.45 L420.24 82.16 L419.34 86.68 L419.34 90.29 L420.24 92.1 L422.05 93 L423.86 93 L426.57 92.1 L428.37 89.39 L429.27 87.58 L430.18 84.87 L431.08 80.36 L431.08 76.75 L430.18 74.94 L428.37 74.04 L426.57 74.04 M426.57 74.04 L424.76 74.94 L422.95 77.65 L422.05 79.45 L421.15 82.16 L420.24 86.68 L420.24 90.29 L421.15 92.1 L422.05 93 M423.86 93 L425.66 92.1 L427.47 89.39 L428.37 87.58 L429.27 84.87 L430.18 80.36 L430.18 76.75 L429.27 74.94 L428.37 74.04 M421.15 83.07 L429.27 83.07 M437.4 82.16 L453.66 82.16 M437.4 87.58 L453.66 87.58 M461.78 74.04 L471.72 74.04 L466.3 81.26 L469.01 81.26 L470.81 82.16 L471.72 83.07 L472.62 85.78 L472.62 87.58 L471.72 90.29 L469.91 92.1 L467.2 93 L464.49 93 L461.78 92.1 L460.88 91.19 L459.98 89.39 M483.45 74.04 L480.75 74.94 L478.94 77.65 L478.04 82.16 L478.04 84.87 L478.94 89.39 L480.75 92.1 L483.45 93 L485.26 93 L487.97 92.1 L489.78 89.39 L490.68 84.87 L490.68 82.16 L489.78 77.65 L487.97 74.94 L485.26 74.04 L483.45 74.04 M496.64 73.22 L495.56 73.77 L495.01 74.85 L495.01 75.93 L495.56 77.02 L496.64 77.56 L497.72 77.56 L498.81 77.02 L499.35 75.93 L499.35 74.85 L498.81 73.77 L497.72 73.22 L496.64 73.22"/>
<path class="t" stroke-width="1.6" d="M630.5 158.8 L628.1 159.6 L626.5 161.2 L625.7 162.8 L624.9 165.2 L624.9 167.6 L625.7 169.2 L628.1 170 L629.7 170 L631.3 169.2 L633.7 166.8 L635.3 164.4 L636.9 161.2 L637.7 158.8 M630.5 158.8 L628.9 159.6 L627.3 161.2 L626.5 162.8 L625.7 165.2 L625.7 167.6 L626.5 169.2 L628.1 170 M630.5 158.8 L632.1 158.8 L633.7 159.6 L634.5 161.2 L636.1 167.6 L636.9 169.2 L637.7 170 M632.1 158.8 L632.9 159.6 L633.7 161.2 L635.3 167.6 L636.1 169.2 L637.7 170 L638.5 170 M644.1 160.4 L658.5 160.4 M644.1 165.2 L658.5 165.2 M668.9 153.2 L666.5 154 L664.9 156.4 L664.1 160.4 L664.1 162.8 L664.9 166.8 L666.5 169.2 L668.9 170 L670.5 170 L672.9 169.2 L674.5 166.8 L675.3 162.8 L675.3 160.4 L674.5 156.4 L672.9 154 L670.5 153.2 L668.9 153.2 M680.58 152.48 L679.62 152.96 L679.14 153.92 L679.14 154.88 L679.62 155.84 L680.58 156.32 L681.54 156.32 L682.5 155.84 L682.98 154.88 L682.98 153.92 L682.5 152.96 L681.54 152.48 L680.58 152.48 M687.66 162.8 L701.58 162.8 M708.02 157.2 L708.02 156.4 L708.82 154.8 L709.62 154 L711.22 153.2 L714.42 153.2 L716.02 154 L716.82 154.8 L717.62 156.4 L717.62 158 L716.82 159.6 L715.22 162 L707.22 170 L718.42 170 M733.62 155.6 L732.82 154 L730.42 153.2 L728.82 153.2 L726.42 154 L724.82 156.4 L724.02 160.4 L724.02 164.4 L724.82 167.6 L726.42 169.2 L728.82 170 L729.62 170 L732.02 169.2 L733.62 167.6 L734.42 165.2 L734.42 164.4 L733.62 162 L732.02 160.4 L729.62 159.6 L728.82 159.6 L726.42 160.4 L724.82 162 L724.02 164.4 M739.7 152.48 L738.74 152.96 L738.26 153.92 L738.26 154.88 L738.74 155.84 L739.7 156.32 L740.66 156.32 L741.62 155.84 L742.1 154.88 L742.1 153.92 L741.62 152.96 L740.66 152.48 L739.7 152.48"/>
<path class="t" stroke-width="1.6" d="M630.1 203.1 L627.7 203.9 L626.1 205.5 L625.3 207.1 L624.5 209.5 L624.5 211.9 L625.3 213.5 L627.7 214.3 L629.3 214.3 L630.9 213.5 L633.3 211.1 L634.9 208.7 L636.5 205.5 L637.3 203.1 M630.1 203.1 L628.5 203.9 L626.9 205.5 L626.1 207.1 L625.3 209.5 L625.3 211.9 L626.1 213.5 L627.7 214.3 M630.1 203.1 L631.7 203.1 L633.3 203.9 L634.1 205.5 L635.7 211.9 L636.5 213.5 L637.3 214.3 M631.7 203.1 L632.5 203.9 L633.3 205.5 L634.9 211.9 L635.7 213.5 L637.3 214.3 L638.1 214.3 M643.7 204.7 L658.1 204.7 M643.7 209.5 L658.1 209.5 M664.5 201.5 L664.5 200.7 L665.3 199.1 L666.1 198.3 L667.7 197.5 L670.9 197.5 L672.5 198.3 L673.3 199.1 L674.1 200.7 L674.1 202.3 L673.3 203.9 L671.7 206.3 L663.7 214.3 L674.9 214.3 M690.1 199.9 L689.3 198.3 L686.9 197.5 L685.3 197.5 L682.9 198.3 L681.3 200.7 L680.5 204.7 L680.5 208.7 L681.3 211.9 L682.9 213.5 L685.3 214.3 L686.1 214.3 L688.5 213.5 L690.1 211.9 L690.9 209.5 L690.9 208.7 L690.1 206.3 L688.5 204.7 L686.1 203.9 L685.3 203.9 L682.9 204.7 L681.3 206.3 L680.5 208.7 M696.18 196.78 L695.22 197.26 L694.74 198.22 L694.74 199.18 L695.22 200.14 L696.18 200.62 L697.14 200.62 L698.1 200.14 L698.58 199.18 L698.58 198.22 L698.1 197.26 L697.14 196.78 L696.18 196.78 M703.26 207.1 L717.18 207.1 M724.42 197.5 L733.22 197.5 L728.42 203.9 L730.82 203.9 L732.42 204.7 L733.22 205.5 L734.02 207.9 L734.02 209.5 L733.22 211.9 L731.62 213.5 L729.22 214.3 L726.82 214.3 L724.42 213.5 L723.62 212.7 L722.82 211.1 M750.02 197.5 L742.02 214.3 M738.82 197.5 L750.02 197.5 M755.3 196.78 L754.34 197.26 L753.86 198.22 L753.86 199.18 L754.34 200.14 L755.3 200.62 L756.26 200.62 L757.22 200.14 L757.7 199.18 L757.7 198.22 L757.22 197.26 L756.26 196.78 L755.3 196.78"/>
<path class="t" stroke-width="1.6" d="M630.1 255.7 L627.7 256.5 L626.1 258.1 L625.3 259.7 L624.5 262.1 L624.5 264.5 L625.3 266.1 L627.7 266.9 L629.3 266.9 L630.9 266.1 L633.3 263.7 L634.9 261.3 L636.5 258.1 L637.3 255.7 M630.1 255.7 L628.5 256.5 L626.9 258.1 L626.1 259.7 L625.3 262.1 L625.3 264.5 L626.1 266.1 L627.7 266.9 M630.1 255.7 L631.7 255.7 L633.3 256.5 L634.1 258.1 L635.7 264.5 L636.5 266.1 L637.3 266.9 M631.7 255.7 L632.5 256.5 L633.3 258.1 L634.9 264.5 L635.7 266.1 L637.3 266.9 L638.1 266.9 M643.7 257.3 L658.1 257.3 M643.7 262.1 L658.1 262.1 M665.3 250.1 L674.1 250.1 L669.3 256.5 L671.7 256.5 L673.3 257.3 L674.1 258.1 L674.9 260.5 L674.9 262.1 L674.1 264.5 L672.5 266.1 L670.1 266.9 L667.7 266.9 L665.3 266.1 L664.5 265.3 L663.7 263.7 M690.9 250.1 L682.9 266.9 M679.7 250.1 L690.9 250.1 M696.18 249.38 L695.22 249.86 L694.74 250.82 L694.74 251.78 L695.22 252.74 L696.18 253.22 L697.14 253.22 L698.1 252.74 L698.58 251.78 L698.58 250.82 L698.1 249.86 L697.14 249.38 L696.18 249.38 M703.26 259.7 L717.18 259.7 M730.82 250.1 L722.82 261.3 L734.82 261.3 M730.82 250.1 L730.82 266.9 M749.22 252.5 L748.42 250.9 L746.02 250.1 L744.42 250.1 L742.02 250.9 L740.42 253.3 L739.62 257.3 L739.62 261.3 L740.42 264.5 L742.02 266.1 L744.42 266.9 L745.22 266.9 L747.62 266.1 L749.22 264.5 L750.02 262.1 L750.02 261.3 L749.22 258.9 L747.62 257.3 L745.22 256.5 L744.42 256.5 L742.02 257.3 L740.42 258.9 L739.62 261.3 M755.3 249.38 L754.34 249.86 L753.86 250.82 L753.86 251.78 L754.34 252.74 L755.3 253.22 L756.26 253.22 L757.22 252.74 L757.7 251.78 L757.7 250.82 L757.22 249.86 L756.26 249.38 L755.3 249.38"/>
<path class="t" stroke-width="1.6" d="M630.7 420.4 L628.3 421.2 L626.7 422.8 L625.9 424.4 L625.1 426.8 L625.1 429.2 L625.9 430.8 L628.3 431.6 L629.9 431.6 L631.5 430.8 L633.9 428.4 L635.5 426 L637.1 422.8 L637.9 420.4 M630.7 420.4 L629.1 421.2 L627.5 422.8 L626.7 424.4 L625.9 426.8 L625.9 429.2 L626.7 430.8 L628.3 431.6 M630.7 420.4 L632.3 420.4 L633.9 421.2 L634.7 422.8 L636.3 429.2 L637.1 430.8 L637.9 431.6 M632.3 420.4 L633.1 421.2 L633.9 422.8 L635.5 429.2 L636.3 430.8 L637.9 431.6 L638.7 431.6 M644.3 422 L658.7 422 M644.3 426.8 L658.7 426.8 M675.5 414.8 L667.5 431.6 M664.3 414.8 L675.5 414.8 M681.9 414.8 L690.7 414.8 L685.9 421.2 L688.3 421.2 L689.9 422 L690.7 422.8 L691.5 425.2 L691.5 426.8 L690.7 429.2 L689.1 430.8 L686.7 431.6 L684.3 431.6 L681.9 430.8 L681.1 430 L680.3 428.4 M696.78 414.08 L695.82 414.56 L695.34 415.52 L695.34 416.48 L695.82 417.44 L696.78 417.92 L697.74 417.92 L698.7 417.44 L699.18 416.48 L699.18 415.52 L698.7 414.56 L697.74 414.08 L696.78 414.08 M703.86 424.4 L717.78 424.4 M734.62 414.8 L726.62 431.6 M723.42 414.8 L734.62 414.8 M749.82 420.4 L749.02 422.8 L747.42 424.4 L745.02 425.2 L744.22 425.2 L741.82 424.4 L740.22 422.8 L739.42 420.4 L739.42 419.6 L740.22 417.2 L741.82 415.6 L744.22 414.8 L745.02 414.8 L747.42 415.6 L749.02 417.2 L749.82 420.4 L749.82 424.4 L749.02 428.4 L747.42 430.8 L745.02 431.6 L743.42 431.6 L741.02 430.8 L740.22 429.2 M755.9 414.08 L754.94 414.56 L754.46 415.52 L754.46 416.48 L754.94 417.44 L755.9 417.92 L756.86 417.92 L757.82 417.44 L758.3 416.48 L758.3 415.52 L757.82 414.56 L756.86 414.08 L755.9 414.08"/>
<path class="t" stroke-width="1.6" d="M643.5 555.9 L641.1 556.7 L639.5 558.3 L638.7 559.9 L637.9 562.3 L637.9 564.7 L638.7 566.3 L641.1 567.1 L642.7 567.1 L644.3 566.3 L646.7 563.9 L648.3 561.5 L649.9 558.3 L650.7 555.9 M643.5 555.9 L641.9 556.7 L640.3 558.3 L639.5 559.9 L638.7 562.3 L638.7 564.7 L639.5 566.3 L641.1 567.1 M643.5 555.9 L645.1 555.9 L646.7 556.7 L647.5 558.3 L649.1 564.7 L649.9 566.3 L650.7 567.1 M645.1 555.9 L645.9 556.7 L646.7 558.3 L648.3 564.7 L649.1 566.3 L650.7 567.1 L651.5 567.1 M657.1 557.5 L671.5 557.5 M657.1 562.3 L671.5 562.3 M681.1 550.3 L678.7 551.1 L677.9 552.7 L677.9 554.3 L678.7 555.9 L680.3 556.7 L683.5 557.5 L685.9 558.3 L687.5 559.9 L688.3 561.5 L688.3 563.9 L687.5 565.5 L686.7 566.3 L684.3 567.1 L681.1 567.1 L678.7 566.3 L677.9 565.5 L677.1 563.9 L677.1 561.5 L677.9 559.9 L679.5 558.3 L681.9 557.5 L685.1 556.7 L686.7 555.9 L687.5 554.3 L687.5 552.7 L686.7 551.1 L684.3 550.3 L681.1 550.3 M701.1 550.3 L693.1 561.5 L705.1 561.5 M701.1 550.3 L701.1 567.1 M709.58 549.58 L708.62 550.06 L708.14 551.02 L708.14 551.98 L708.62 552.94 L709.58 553.42 L710.54 553.42 L711.5 552.94 L711.98 551.98 L711.98 551.02 L711.5 550.06 L710.54 549.58 L709.58 549.58 M716.66 559.9 L730.58 559.9 M746.62 555.9 L745.82 558.3 L744.22 559.9 L741.82 560.7 L741.02 560.7 L738.62 559.9 L737.02 558.3 L736.22 555.9 L736.22 555.1 L737.02 552.7 L738.62 551.1 L741.02 550.3 L741.82 550.3 L744.22 551.1 L745.82 552.7 L746.62 555.9 L746.62 559.9 L745.82 563.9 L744.22 566.3 L741.82 567.1 L740.22 567.1 L737.82 566.3 L737.02 564.7 M757.02 550.3 L754.62 551.1 L753.02 553.5 L752.22 557.5 L752.22 559.9 L753.02 563.9 L754.62 566.3 L757.02 567.1 L758.62 567.1 L761.02 566.3 L762.62 563.9 L763.42 559.9 L763.42 557.5 L762.62 553.5 L761.02 551.1 L758.62 550.3 L757.02 550.3 M768.7 549.58 L767.74 550.06 L767.26 551.02 L767.26 551.98 L767.74 552.94 L768.7 553.42 L769.66 553.42 L770.62 552.94 L771.1 551.98 L771.1 551.02 L770.62 550.06 L769.66 549.58 L768.7 549.58"/>
<path class="t" stroke-width="1.6" d="M84.61 213.07 L86.2 212.27 L88.58 209.89 L88.58 226.58 M87.79 210.68 L87.79 226.58 M84.61 226.58 L91.76 226.58"/>
<path class="t" stroke-width="1.6" d="M63.83 351.58 L61.44 352.38 L59.85 354.76 L59.06 358.74 L59.06 361.12 L59.85 365.1 L61.44 367.48 L63.83 368.28 L65.42 368.28 L67.8 367.48 L69.39 365.1 L70.19 361.12 L70.19 358.74 L69.39 354.76 L67.8 352.38 L65.42 351.58 L63.83 351.58 M63.83 351.58 L62.24 352.38 L61.44 353.17 L60.65 354.76 L59.85 358.74 L59.85 361.12 L60.65 365.1 L61.44 366.69 L62.24 367.48 L63.83 368.28 M65.42 368.28 L67.01 367.48 L67.8 366.69 L68.59 365.1 L69.39 361.12 L69.39 358.74 L68.59 354.76 L67.8 353.17 L67.01 352.38 L65.42 351.58 M75.96 366.45 L74.93 367.48 L75.96 368.51 L76.99 367.48 L75.96 366.45 M75.48 367.48 L76.44 367.48 M84.61 354.76 L86.2 353.97 L88.58 351.58 L88.58 368.28 M87.79 352.38 L87.79 368.28 M84.61 368.28 L91.76 368.28"/>
<path class="t" stroke-width="1.6" d="M47.62 493.27 L45.24 494.07 L43.65 496.45 L42.85 500.43 L42.85 502.81 L43.65 506.79 L45.24 509.17 L47.62 509.97 L49.21 509.97 L51.6 509.17 L53.19 506.79 L53.98 502.81 L53.98 500.43 L53.19 496.45 L51.6 494.07 L49.21 493.27 L47.62 493.27 M47.62 493.27 L46.03 494.07 L45.24 494.86 L44.44 496.45 L43.65 500.43 L43.65 502.81 L44.44 506.79 L45.24 508.38 L46.03 509.17 L47.62 509.97 M49.21 509.97 L50.8 509.17 L51.6 508.38 L52.39 506.79 L53.19 502.81 L53.19 500.43 L52.39 496.45 L51.6 494.86 L50.8 494.07 L49.21 493.27 M59.76 508.14 L58.73 509.17 L59.76 510.2 L60.79 509.17 L59.76 508.14 M59.28 509.17 L60.24 509.17 M70.3 493.27 L67.92 494.07 L66.33 496.45 L65.53 500.43 L65.53 502.81 L66.33 506.79 L67.92 509.17 L70.3 509.97 L71.89 509.97 L74.28 509.17 L75.87 506.79 L76.66 502.81 L76.66 500.43 L75.87 496.45 L74.28 494.07 L71.89 493.27 L70.3 493.27 M70.3 493.27 L68.71 494.07 L67.92 494.86 L67.12 496.45 L66.33 500.43 L66.33 502.81 L67.12 506.79 L67.92 508.38 L68.71 509.17 L70.3 509.97 M71.89 509.97 L73.48 509.17 L74.28 508.38 L75.07 506.79 L75.87 502.81 L75.87 500.43 L75.07 496.45 L74.28 494.86 L73.48 494.07 L71.89 493.27 M84.61 496.45 L86.2 495.66 L88.58 493.27 L88.58 509.97 M87.79 494.07 L87.79 509.97 M84.61 509.97 L91.76 509.97"/>
<path class="t" stroke-width="1.6" d="M47.02 638.64 L48.61 637.85 L51 635.46 L51 652.16 M50.2 636.26 L50.2 652.16 M47.02 652.16 L54.18 652.16 M65.12 635.46 L62.74 636.26 L61.15 638.64 L60.35 642.62 L60.35 645 L61.15 648.98 L62.74 651.36 L65.12 652.16 L66.71 652.16 L69.1 651.36 L70.69 648.98 L71.48 645 L71.48 642.62 L70.69 638.64 L69.1 636.26 L66.71 635.46 L65.12 635.46 M65.12 635.46 L63.53 636.26 L62.74 637.05 L61.94 638.64 L61.15 642.62 L61.15 645 L61.94 648.98 L62.74 650.57 L63.53 651.36 L65.12 652.16 M66.71 652.16 L68.3 651.36 L69.1 650.57 L69.89 648.98 L70.69 645 L70.69 642.62 L69.89 638.64 L69.1 637.05 L68.3 636.26 L66.71 635.46 M75.55 640.47 L84.14 640.47 M87.68 636.65 L88.16 637.13 L87.68 637.61 L87.2 637.13 L87.2 636.65 L87.68 635.7 L88.16 635.22 L89.59 634.75 L91.49 634.75 L92.93 635.22 L93.4 636.18 L93.4 637.61 L92.93 638.56 L91.49 639.04 L90.06 639.04 M91.49 634.75 L92.45 635.22 L92.93 636.18 L92.93 637.61 L92.45 638.56 L91.49 639.04 M91.49 639.04 L92.45 639.52 L93.4 640.47 L93.88 641.42 L93.88 642.86 L93.4 643.81 L92.93 644.29 L91.49 644.76 L89.59 644.76 L88.16 644.29 L87.68 643.81 L87.2 642.86 L87.2 642.38 L87.68 641.9 L88.16 642.38 L87.68 642.86 M92.93 639.99 L93.4 641.42 L93.4 642.86 L92.93 643.81 L92.45 644.29 L91.49 644.76"/>
<path class="t" stroke-width="1.6" d="M47.02 780.33 L48.61 779.54 L51 777.15 L51 793.85 M50.2 777.95 L50.2 793.85 M47.02 793.85 L54.18 793.85 M65.12 777.15 L62.74 777.95 L61.15 780.33 L60.35 784.31 L60.35 786.69 L61.15 790.67 L62.74 793.05 L65.12 793.85 L66.71 793.85 L69.1 793.05 L70.69 790.67 L71.48 786.69 L71.48 784.31 L70.69 780.33 L69.1 777.95 L66.71 777.15 L65.12 777.15 M65.12 777.15 L63.53 777.95 L62.74 778.74 L61.94 780.33 L61.15 784.31 L61.15 786.69 L61.94 790.67 L62.74 792.26 L63.53 793.05 L65.12 793.85 M66.71 793.85 L68.3 793.05 L69.1 792.26 L69.89 790.67 L70.69 786.69 L70.69 784.31 L69.89 780.33 L69.1 778.74 L68.3 777.95 L66.71 777.15 M75.55 782.16 L84.14 782.16 M91.49 777.39 L91.49 786.45 M91.97 776.44 L91.97 786.45 M91.97 776.44 L86.72 783.59 L94.36 783.59 M90.06 786.45 L93.4 786.45"/>
<path class="t" stroke-width="1.6" d="M97.96 799.5 L95.58 800.3 L93.99 802.69 L93.19 806.66 L93.19 809.05 L93.99 813.02 L95.58 815.41 L97.96 816.2 L99.55 816.2 L101.94 815.41 L103.53 813.02 L104.32 809.05 L104.32 806.66 L103.53 802.69 L101.94 800.3 L99.55 799.5 L97.96 799.5 M97.96 799.5 L96.37 800.3 L95.58 801.1 L94.78 802.69 L93.99 806.66 L93.99 809.05 L94.78 813.02 L95.58 814.61 L96.37 815.41 L97.96 816.2 M99.55 816.2 L101.14 815.41 L101.94 814.61 L102.73 813.02 L103.53 809.05 L103.53 806.66 L102.73 802.69 L101.94 801.1 L101.14 800.3 L99.55 799.5 M110.1 814.37 L109.07 815.41 L110.1 816.44 L111.13 815.41 L110.1 814.37 M109.62 815.41 L110.58 815.41 M118.75 802.69 L120.34 801.89 L122.72 799.5 L122.72 816.2 M121.93 800.3 L121.93 816.2 M118.75 816.2 L125.9 816.2"/>
<path class="t" stroke-width="1.6" d="M329.47 802.69 L331.06 801.89 L333.45 799.5 L333.45 816.2 M332.65 800.3 L332.65 816.2 M329.47 816.2 L336.63 816.2"/>
<path class="t" stroke-width="1.6" d="M543.44 802.69 L545.03 801.89 L547.41 799.5 L547.41 816.2 M546.62 800.3 L546.62 816.2 M543.44 816.2 L550.59 816.2 M561.54 799.5 L559.15 800.3 L557.56 802.69 L556.77 806.66 L556.77 809.05 L557.56 813.02 L559.15 815.41 L561.54 816.2 L563.13 816.2 L565.51 815.41 L567.1 813.02 L567.9 809.05 L567.9 806.66 L567.1 802.69 L565.51 800.3 L563.13 799.5 L561.54 799.5 M561.54 799.5 L559.95 800.3 L559.15 801.1 L558.36 802.69 L557.56 806.66 L557.56 809.05 L558.36 813.02 L559.15 814.61 L559.95 815.41 L561.54 816.2 M563.13 816.2 L564.72 815.41 L565.51 814.61 L566.31 813.02 L567.1 809.05 L567.1 806.66 L566.31 802.69 L565.51 801.1 L564.72 800.3 L563.13 799.5"/>
<path class="t" stroke-width="1.6" d="M761.15 803.49 L762.74 802.69 L765.12 800.3 L765.12 817 M764.33 801.1 L764.33 817 M761.15 817 L768.3 817 M779.25 800.3 L776.86 801.1 L775.27 803.49 L774.48 807.46 L774.48 809.85 L775.27 813.82 L776.86 816.21 L779.25 817 L780.84 817 L783.22 816.21 L784.81 813.82 L785.61 809.85 L785.61 807.46 L784.81 803.49 L783.22 801.1 L780.84 800.3 L779.25 800.3 M779.25 800.3 L777.66 801.1 L776.86 801.89 L776.07 803.49 L775.27 807.46 L775.27 809.85 L776.07 813.82 L776.86 815.41 L777.66 816.21 L779.25 817 M780.84 817 L782.43 816.21 L783.22 815.41 L784.02 813.82 L784.81 809.85 L784.81 807.46 L784.02 803.49 L783.22 801.89 L782.43 801.1 L780.84 800.3 M790.14 801.5 L790.62 801.97 L790.14 802.45 L789.66 801.97 L789.66 801.5 L790.14 800.54 L790.62 800.07 L792.05 799.59 L793.95 799.59 L795.39 800.07 L795.86 800.54 L796.34 801.5 L796.34 802.45 L795.86 803.41 L794.43 804.36 L792.05 805.31 L791.09 805.79 L790.14 806.74 L789.66 808.18 L789.66 809.61 M793.95 799.59 L794.91 800.07 L795.39 800.54 L795.86 801.5 L795.86 802.45 L795.39 803.41 L793.95 804.36 L792.05 805.31 M789.66 808.65 L790.14 808.18 L791.09 808.18 L793.48 809.13 L794.91 809.13 L795.86 808.65 L796.34 808.18 M791.09 808.18 L793.48 809.61 L795.39 809.61 L795.86 809.13 L796.34 808.18 L796.34 807.22"/>
<path class="t" stroke-width="1.6" d="M349.08 831.87 L349.08 849.3 M349.08 831.87 L360.28 849.3 M360.28 831.87 L360.28 849.3 M365.31 845.64 L365.31 856.1 M372.03 845.64 L372.03 856.1 M365.31 850.62 L372.03 850.62 M376.78 855.6 L376.3 856.1 L375.82 855.6 L376.3 855.1 L376.78 855.6 L376.78 856.6 L376.3 857.59 L375.82 858.09 M380.1 852.12 L385.86 852.12 L385.86 851.12 L385.38 850.12 L384.9 849.63 L383.94 849.13 L382.5 849.13 L381.54 849.63 L380.58 850.62 L380.1 852.12 L380.1 853.11 L380.58 854.61 L381.54 855.6 L382.5 856.1 L383.94 856.1 L384.9 855.6 L385.86 854.61 M394.44 849.13 L394.44 859.59 M394.44 850.62 L393.48 849.63 L392.52 849.13 L391.08 849.13 L390.12 849.63 L389.16 850.62 L388.68 852.12 L388.68 853.11 L389.16 854.61 L390.12 855.6 L391.08 856.1 L392.52 856.1 L393.48 855.6 L394.44 854.61 M401.11 848.47 L400.31 849.3 L399.51 848.47 L400.31 847.64 L401.11 848.47 L401.11 850.13 L400.31 851.79 L399.51 852.62 M421.75 835.19 L423.35 834.36 L425.75 831.87 L425.75 849.3 M440.05 831.87 L437.65 832.7 L436.05 835.19 L435.25 839.34 L435.25 841.83 L436.05 845.98 L437.65 848.47 L440.05 849.3 L441.65 849.3 L444.05 848.47 L445.65 845.98 L446.45 841.83 L446.45 839.34 L445.65 835.19 L444.05 832.7 L441.65 831.87 L440.05 831.87 M450.69 833.89 L450.69 833.39 L451.17 832.4 L451.65 831.9 L452.61 831.4 L454.53 831.4 L455.49 831.9 L455.97 832.4 L456.45 833.39 L456.45 834.39 L455.97 835.39 L455.01 836.88 L450.21 841.86 L456.93 841.86 M464.55 831.4 L459.75 838.37 L466.95 838.37 M464.55 831.4 L464.55 841.86 M492.56 840.17 L490.96 838.51 L489.36 837.68 L486.96 837.68 L485.36 838.51 L483.76 840.17 L482.96 842.66 L482.96 844.32 L483.76 846.81 L485.36 848.47 L486.96 849.3 L489.36 849.3 L490.96 848.47 L492.56 846.81 M498.04 837.68 L498.04 849.3 M498.04 841 L500.44 838.51 L502.04 837.68 L504.44 837.68 L506.04 838.51 L506.84 841 L506.84 849.3 M506.84 841 L509.24 838.51 L510.84 837.68 L513.24 837.68 L514.84 838.51 L515.64 841 L515.64 849.3 M520.67 837.38 L529.02 837.38 M532.82 833.89 L532.82 833.39 L533.3 832.4 L533.78 831.9 L534.74 831.4 L536.66 831.4 L537.62 831.9 L538.1 832.4 L538.58 833.39 L538.58 834.39 L538.1 835.39 L537.14 836.88 L532.34 841.86 L539.06 841.86"/>
<path class="t" stroke-width="1.6" transform="translate(30 451.6) rotate(-90)" d="M-44.63 -16.7 L-44.63 0 M-44.63 0 L-35.03 0 M-30.45 0.82 L-31.41 1.3 L-32.37 2.25 L-32.85 3.68 L-32.85 4.64 L-32.37 6.07 L-31.41 7.02 L-30.45 7.5 L-29.01 7.5 L-28.05 7.02 L-27.09 6.07 L-26.61 4.64 L-26.61 3.68 L-27.09 2.25 L-28.05 1.3 L-29.01 0.82 L-30.45 0.82 M-23.31 -2.52 L-23.31 7.5 M-23.31 2.25 L-22.35 1.3 L-21.39 0.82 L-19.95 0.82 L-18.99 1.3 L-18.03 2.25 L-17.55 3.68 L-17.55 4.64 L-18.03 6.07 L-18.99 7.02 L-19.95 7.5 L-21.39 7.5 L-22.35 7.02 L-23.31 6.07 M-9.44 2.25 L-9.92 1.3 L-11.36 0.82 L-12.8 0.82 L-14.24 1.3 L-14.72 2.25 L-14.24 3.21 L-13.28 3.68 L-10.88 4.16 L-9.92 4.64 L-9.44 5.59 L-9.44 6.07 L-9.92 7.02 L-11.36 7.5 L-12.8 7.5 L-14.24 7.02 L-14.72 6.07 M7.92 -19.88 L-6.48 5.57 M12.61 -16.7 L12.61 0 M12.61 0 L22.21 0 M24.4 -2.52 L24.88 -2.04 L25.36 -2.52 L24.88 -2.99 L24.4 -2.52 M24.88 0.82 L24.88 7.5 M28.68 0.82 L28.68 7.5 M28.68 2.73 L30.12 1.3 L31.08 0.82 L32.52 0.82 L33.48 1.3 L33.96 2.73 L33.96 7.5 M38.24 -2.52 L38.24 5.59 L38.72 7.02 L39.68 7.5 L40.64 7.5 M36.8 0.82 L40.16 0.82 M43.48 0.82 L43.48 7.5 M43.48 3.68 L43.96 2.25 L44.92 1.3 L45.88 0.82 L47.32 0.82"/>
<g class="h" font-size="18">
<text x="136" y="93" textLength="365">isotropic emission, θ=30°</text>
<text x="624" y="170">α=0°−26°</text>
<text x="624" y="214">α=26°−37°</text>
<text x="624" y="267">α=37°−46°</text>
<text x="624" y="432">α=73°−79°</text>
<text x="637" y="567">α=84°−90°</text>
<text x="96" y="224" text-anchor="end">1</text>
<text x="96" y="366" text-anchor="end">0.1</text>
<text x="96" y="508" text-anchor="end">0.01</text>
<text x="96" y="650" text-anchor="end">10⁻³</text>
<text x="96" y="791" text-anchor="end">10⁻⁴</text>
<text x="110" y="816" text-anchor="middle">0.1</text>
<text x="332" y="816" text-anchor="middle">1</text>
<text x="554" y="816" text-anchor="middle">10</text>
<text x="776" y="816" text-anchor="middle">10²</text>
<text x="443" y="848" text-anchor="middle" font-size="16">N<tspan baseline-shift="sub" font-size="10">H,eq</tspan>, 10<tspan baseline-shift="super" font-size="10">24</tspan> cm<tspan baseline-shift="super" font-size="10">−2</tspan></text>
<text transform="translate(30 451) rotate(-90)" text-anchor="middle" font-size="16">L<tspan baseline-shift="sub" font-size="10">obs</tspan>/L<tspan baseline-shift="sub" font-size="10">intr</tspan></text>
</g>
</svg></body></html>
